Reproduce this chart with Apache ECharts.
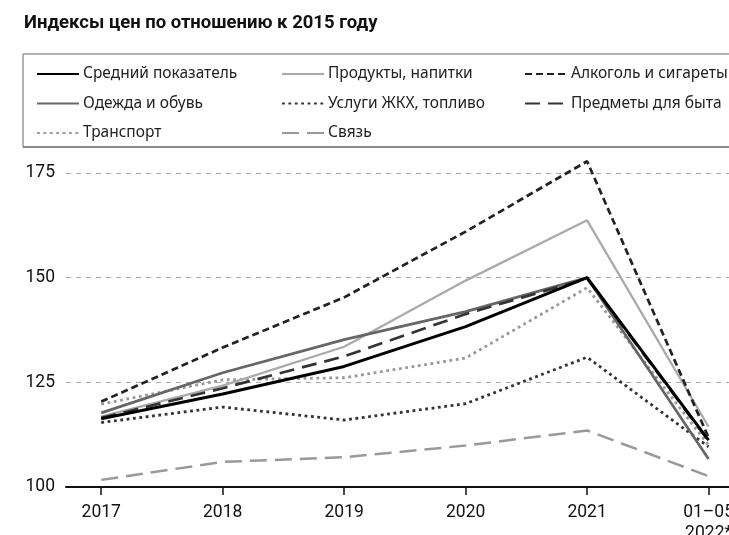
<!DOCTYPE html>
<html>
<head>
    <meta charset="utf-8">
    <title>Индексы цен</title>
    <script src="https://cdn.jsdelivr.net/npm/echarts@6/dist/echarts.min.js"></script>
    <style>
        * { margin: 0; padding: 0; }
        html, body { width: 100%; height: 100%; overflow: hidden; background: #fff; }
        #main { width: 729px; height: 535px; }
    </style>
</head>
<body>
<div id="main"></div>
<script>
    // подписи по оси X
    let periods = ['2017', '2018', '2019', '2020', '2021', '01\u201305\n2022*'];
    let periodIdx = [0, 1, 2, 3, 4, 5];

    // значения, 2015 = 100
    let avg = [116.3, 122.2, 128.8, 138.3, 150.0, 111.2];
    let food = [116.8, 124.2, 133.5, 149.3, 163.7, 114.4];
    let alco = [120.4, 133.3, 145.3, 161.0, 177.8, 111.8];
    let clothes = [117.7, 127.3, 135.2, 141.9, 150.0, 106.7];
    let utilities = [115.4, 119.1, 116.0, 119.9, 131.0, 109.6];
    let household = [116.5, 123.6, 131.2, 141.3, 149.8, 111.0];
    let transport = [119.8, 125.6, 126.1, 130.8, 147.6, 110.0];
    let comm = [101.7, 106.0, 107.1, 109.9, 113.5, 102.6];

    let yTicks = [100, 125, 150, 175];

    let myChart = echarts.init(document.getElementById('main'));

    const axisFont = 'Roboto, sans-serif';
    const legendFont = '"Noto Sans", sans-serif';

    function mk(name, vals, color, width, dash) {
        return {
            name: name,
            type: 'line',
            symbol: 'none',
            clip: false,
            data: periodIdx.map(i => [i, vals[i]]),
            lineStyle: { color: color, width: width, type: dash || 'solid', cap: 'butt' },
            itemStyle: { color: color },
            emphasis: { disabled: true }
        };
    }

    let series = [
        mk('Связь', comm, '#999', 2.5, [17, 8]),
        mk('Услуги ЖКХ, топливо', utilities, '#333', 2.8, [2.8, 3.6]),
        mk('Транспорт', transport, '#999', 2.8, [2.8, 3.6]),
        mk('Продукты, напитки', food, '#aaa', 2.3),
        mk('Алкоголь и сигареты', alco, '#222', 2.7, [7, 4]),
        mk('Одежда и обувь', clothes, '#666', 2.7),
        mk('Предметы для быта', household, '#333', 2.7, [15, 8]),
        mk('Средний показатель', avg, '#000', 3)
    ];

    function legendCol(left, names) {
        return {
            orient: 'vertical',
            left: left,
            top: 66,
            padding: 0,
            itemWidth: 42,
            itemHeight: 14,
            itemGap: 13.5,
            selectedMode: false,
            // прячем кружок, оставляем только линию
            itemStyle: { opacity: 0, color: 'rgba(0,0,0,0)', borderWidth: 0 },
            textStyle: { fontFamily: legendFont, fontSize: 15.5, color: '#222', lineHeight: 14, padding: [0, 0, 0, -1] },
            data: names
        };
    }

    let option = {
        backgroundColor: '#fff',
        animation: false,
        title: {
            text: 'Индексы цен по отношению к 2015 году',
            left: 24,
            top: 14,
            padding: 0,
            textStyle: { fontFamily: 'Roboto, sans-serif', fontSize: 18.5, fontWeight: 'bold', color: '#111' }
        },
        legend: [
            legendCol(36, ['Средний показатель', 'Одежда и обувь', 'Транспорт']),
            legendCol(281, ['Продукты, напитки', 'Услуги ЖКХ, топливо', 'Связь']),
            legendCol(524, ['Алкоголь и сигареты', 'Предметы для быта'])
        ],
        graphic: [
            { type: 'line', shape: { x1: 23, y1: 54, x2: 729, y2: 54 }, style: { stroke: '#999', lineWidth: 1.5 } },
            { type: 'line', shape: { x1: 23, y1: 54, x2: 23, y2: 147 }, style: { stroke: '#999', lineWidth: 1.5 } },
            { type: 'line', shape: { x1: 23, y1: 147, x2: 729, y2: 147 }, style: { stroke: '#666', lineWidth: 1.5 } }
        ],
        grid: { left: 66, top: 173, width: 679, height: 314, containLabel: false, outerBoundsMode: 'none' },
        xAxis: {
            type: 'value',
            min: -0.29,
            max: 5.3,
            splitLine: { show: false },
            axisLine: { show: true, onZero: false, lineStyle: { color: '#111', width: 2 } },
            axisTick: { show: true, customValues: periodIdx, length: 8, lineStyle: { color: '#111', width: 1.5 } },
            axisLabel: {
                customValues: periodIdx,
                formatter: v => periods[Math.round(v)],
                margin: 15,
                fontFamily: axisFont,
                fontSize: 17.5,
                lineHeight: 21,
                color: '#111'
            }
        },
        yAxis: {
            type: 'value',
            min: 100,
            max: 175,
            interval: 25,
            axisLine: { show: false, onZero: false },
            axisTick: { show: false },
            axisLabel: {
                customValues: yTicks,
                margin: 11,
                fontFamily: axisFont,
                fontSize: 17.5,
                color: '#111'
            },
            splitLine: { show: true, lineStyle: { color: '#aaa', width: 1, type: [5, 5] } }
        },
        series: series
    };

    myChart.setOption(option);
</script>
</body>
</html>
